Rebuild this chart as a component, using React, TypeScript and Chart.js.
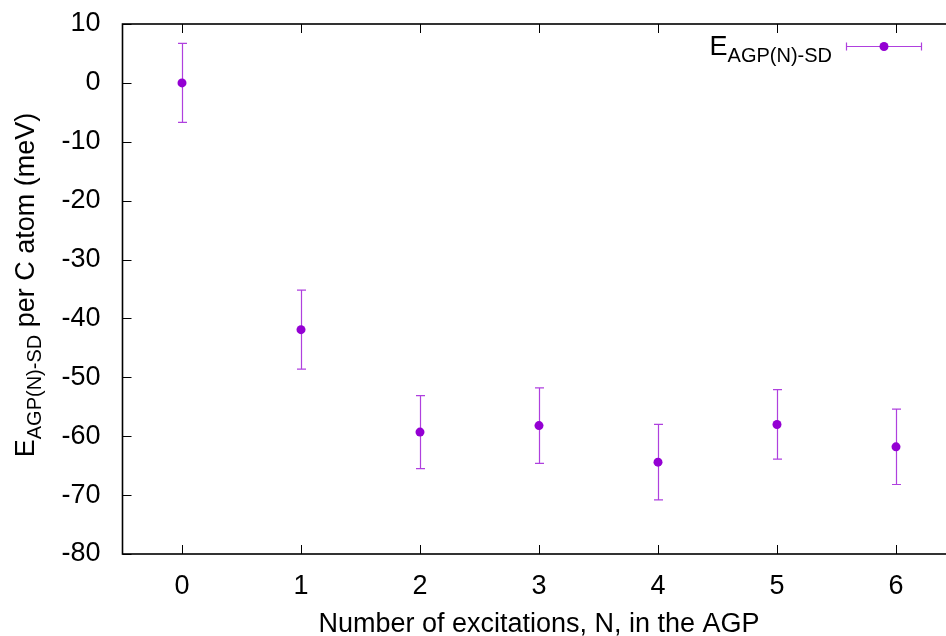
import { useEffect, useRef } from 'react';
import { Chart, registerables } from 'chart.js';

Chart.register(...registerables);

// ---- data ----
const N_VALUES = [0, 1, 2, 3, 4, 5, 6];
const ENERGY = [0, -41.9, -59.3, -58.2, -64.4, -58.0, -61.8];
const ERRORS = [6.7, 6.7, 6.2, 6.4, 6.4, 5.9, 6.4];
const Y_TICKS = [-80, -70, -60, -50, -40, -30, -20, -10, 0, 10];
const X_MIN = -0.5;
const X_MAX = 6.5;
const Y_MIN = -80;
const Y_MAX = 10;

const X_TITLE = 'Number of excitations, N, in the AGP';
const Y_TITLE_MAIN = 'E';
const Y_TITLE_SUB = 'AGP(N)-SD';
const Y_TITLE_REST = ' per C atom (meV)';
const LEGEND_MAIN = 'E';
const LEGEND_SUB = 'AGP(N)-SD';

const COLOR = '#9400D3';
const BAR_COLOR = 'rgba(148, 0, 211, 0.75)';
const FONT = '"Liberation Sans", Arial, Helvetica, sans-serif';
const FONT_SIZE = 27;
const SUB_SIZE = 20;

const CANVAS_W = 990;
const CANVAS_H = 636;

const framePlugin = {
  id: 'gnuplotFrame',
  beforeDatasetsDraw(chart: any) {
    const { ctx, chartArea } = chart;
    const { left, right, top, bottom } = chartArea;
    const xs = chart.scales.x;
    const ys = chart.scales.y;
    ctx.save();
    // inner ticks
    ctx.strokeStyle = '#000';
    ctx.lineWidth = 1;
    const tl = 9;
    N_VALUES.forEach((v) => {
      const px = Math.round(xs.getPixelForValue(v)) + 0.5;
      ctx.beginPath();
      ctx.moveTo(px, bottom);
      ctx.lineTo(px, bottom - tl);
      ctx.moveTo(px, top);
      ctx.lineTo(px, top + tl);
      ctx.stroke();
    });
    Y_TICKS.forEach((v) => {
      const py = Math.round(ys.getPixelForValue(v)) + 0.5;
      ctx.beginPath();
      ctx.moveTo(left, py);
      ctx.lineTo(left + tl, py);
      ctx.moveTo(right, py);
      ctx.lineTo(right - tl, py);
      ctx.stroke();
    });
    // frame
    ctx.lineWidth = 1.6;
    ctx.strokeRect(left, top, right - left, bottom - top);
    // error bars
    ctx.strokeStyle = BAR_COLOR;
    ctx.lineWidth = 1.2;
    const cap = 4.5;
    N_VALUES.forEach((n, i) => {
      const px = Math.round(xs.getPixelForValue(n)) + 0.5;
      const yHi = ys.getPixelForValue(ENERGY[i] + ERRORS[i]);
      const yLo = ys.getPixelForValue(ENERGY[i] - ERRORS[i]);
      ctx.beginPath();
      ctx.moveTo(px, yHi);
      ctx.lineTo(px, yLo);
      ctx.moveTo(px - cap, yHi);
      ctx.lineTo(px + cap, yHi);
      ctx.moveTo(px - cap, yLo);
      ctx.lineTo(px + cap, yLo);
      ctx.stroke();
    });
    ctx.restore();
  },
  afterDraw(chart: any) {
    const { ctx } = chart;
    ctx.save();
    ctx.fillStyle = '#000';
    ctx.textBaseline = 'alphabetic';
    // y title (rotated, with subscript)
    const mainFont = `${FONT_SIZE}px ${FONT}`;
    const subFont = `${SUB_SIZE}px ${FONT}`;
    ctx.font = mainFont;
    const wE = ctx.measureText(Y_TITLE_MAIN).width;
    const wRest = ctx.measureText(Y_TITLE_REST).width;
    ctx.font = subFont;
    const wSub = ctx.measureText(Y_TITLE_SUB).width;
    const total = wE + wSub + wRest;
    const cy = (chart.chartArea.top + chart.chartArea.bottom) / 2 - 4;
    ctx.translate(34, cy);
    ctx.rotate(-Math.PI / 2);
    let x = -total / 2;
    ctx.font = mainFont;
    ctx.textAlign = 'left';
    ctx.fillText(Y_TITLE_MAIN, x, 0);
    x += wE;
    ctx.font = subFont;
    ctx.fillText(Y_TITLE_SUB, x, 7);
    x += wSub;
    ctx.font = mainFont;
    ctx.fillText(Y_TITLE_REST, x, 0);
    ctx.restore();

    // legend
    const ys = chart.scales.y;
    ctx.save();
    const ly = Math.round(ys.getPixelForValue(Y_MAX) + 22) + 0.5;
    const sx1 = 846;
    const sx2 = 922;
    ctx.strokeStyle = BAR_COLOR;
    ctx.lineWidth = 1.2;
    ctx.beginPath();
    ctx.moveTo(sx1, ly);
    ctx.lineTo(sx2, ly);
    ctx.moveTo(sx1 + 0.5, ly - 4);
    ctx.lineTo(sx1 + 0.5, ly + 4);
    ctx.moveTo(sx2 - 0.5, ly - 4);
    ctx.lineTo(sx2 - 0.5, ly + 4);
    ctx.stroke();
    ctx.fillStyle = COLOR;
    ctx.beginPath();
    ctx.arc((sx1 + sx2) / 2, ly, 4.5, 0, Math.PI * 2);
    ctx.fill();
    ctx.fillStyle = '#000';
    ctx.font = subFont;
    ctx.textAlign = 'right';
    const textRight = 832;
    ctx.fillText(LEGEND_SUB, textRight, ly + 15);
    const wLSub = ctx.measureText(LEGEND_SUB).width;
    ctx.font = mainFont;
    ctx.fillText(LEGEND_MAIN, textRight - wLSub, ly + 8.5);
    ctx.restore();
  },
};

export default function App() {
  const canvasRef = useRef<HTMLCanvasElement | null>(null);

  useEffect(() => {
    const canvas = canvasRef.current;
    if (!canvas) return;
    const chart = new Chart(canvas, {
      type: 'scatter',
      data: {
        datasets: [
          {
            label: LEGEND_MAIN + LEGEND_SUB,
            data: N_VALUES.map((n, i) => ({ x: n, y: ENERGY[i] })),
            pointRadius: 4.5,
            pointHoverRadius: 4.5,
            pointBackgroundColor: COLOR,
            pointBorderWidth: 0,
            borderColor: COLOR,
            showLine: false,
          },
        ],
      },
      options: {
        animation: false,
        responsive: false,
        maintainAspectRatio: false,
        devicePixelRatio: 1,
        layout: { padding: { left: 0, top: 24, right: CANVAS_W - 955.5, bottom: 0 } },
        plugins: { legend: { display: false }, tooltip: { enabled: false } },
        scales: {
          x: {
            type: 'linear',
            min: X_MIN,
            max: X_MAX,
            grid: { display: false, drawTicks: false },
            border: { display: false },
            afterBuildTicks: (scale: any) => {
              scale.ticks = N_VALUES.map((v) => ({ value: v }));
            },
            afterFit: (scale: any) => {
              scale.height = 636 - 554;
              scale.paddingLeft = 0;
              scale.paddingRight = 0;
            },
            ticks: {
              color: '#000',
              padding: 16,
              maxRotation: 0,
              autoSkip: false,
              font: { family: FONT, size: FONT_SIZE },
              callback: (v: any) => String(v),
            },
            title: {
              display: true,
              text: X_TITLE,
              color: '#000',
              padding: { top: 0, bottom: -5 },
              font: { family: FONT, size: FONT_SIZE },
            },
          },
          y: {
            type: 'linear',
            min: Y_MIN,
            max: Y_MAX,
            grid: { display: false, drawTicks: false },
            border: { display: false },
            afterBuildTicks: (scale: any) => {
              scale.ticks = Y_TICKS.map((v) => ({ value: v }));
            },
            afterFit: (scale: any) => {
              scale.width = 122.5;
              scale.paddingTop = 0;
              scale.paddingBottom = 0;
            },
            ticks: {
              color: '#000',
              padding: 22,
              autoSkip: false,
              font: { family: FONT, size: FONT_SIZE },
              callback: (v: any) => String(v),
            },
          },
        },
      },
      plugins: [framePlugin],
    });
    return () => chart.destroy();
  }, []);

  return (
    <div
      style={{
        position: 'fixed',
        left: 0,
        top: 0,
        width: 946,
        height: 636,
        overflow: 'hidden',
        background: '#fff',
      }}
    >
      <canvas ref={canvasRef} width={CANVAS_W} height={CANVAS_H} style={{ display: 'block' }} />
    </div>
  );
}
